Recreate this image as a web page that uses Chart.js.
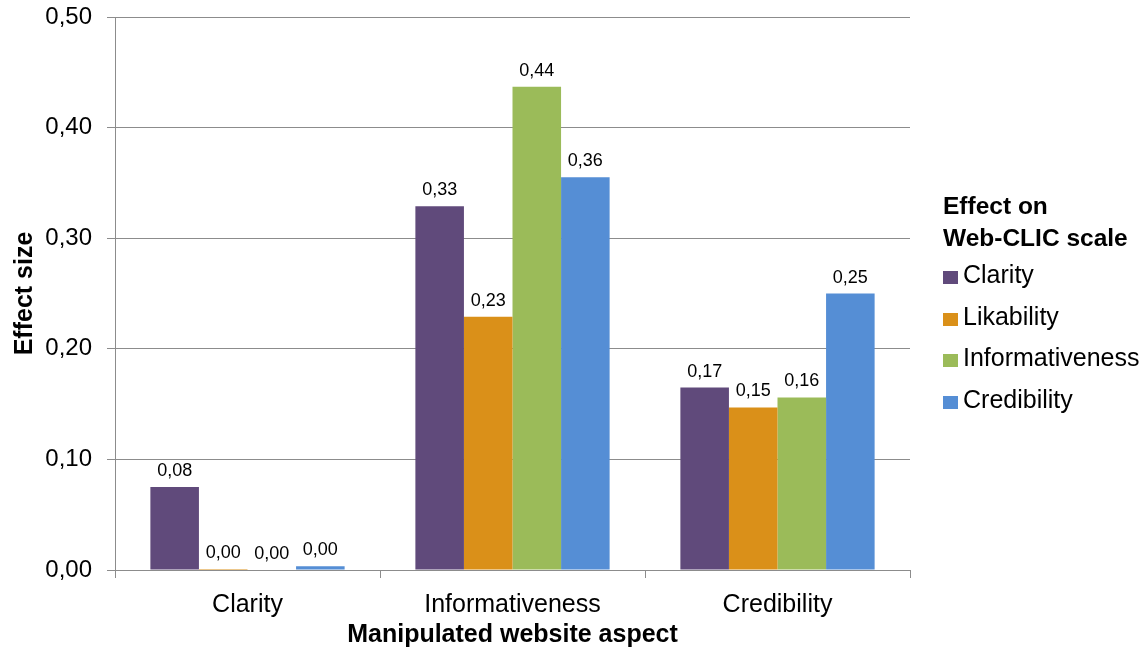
<!DOCTYPE html>
<html>
<head>
<meta charset="utf-8">
<script src="https://cdn.jsdelivr.net/npm/chart.js@4.4.1/dist/chart.umd.min.js"></script>
<style>
    html, body { margin: 0; padding: 0; background: #fff; }
    #wrap { position: relative; width: 1148px; height: 651px; font-family: "Liberation Sans", Arial, sans-serif; }
    #legend { position: absolute; left: 943px; top: 190px; color: #000; }
    #legend .title { font-weight: bold; font-size: 24.5px; line-height: 32px; }
    #legend .item { font-size: 25px; height: 41.5px; line-height: 41.5px; white-space: nowrap; }
    #legend .box { display: inline-block; width: 15px; height: 13px; margin-right: 5px; vertical-align: -1px; }
</style>
</head>
<body>
<div id="wrap">
    <canvas id="effectChart" width="1148" height="651"></canvas>
    <div id="legend"></div>
</div>
<script>
const categories = ['Clarity', 'Informativeness', 'Credibility'];
const seriesNames = ['Clarity', 'Likability', 'Informativeness', 'Credibility'];
const clarityValues = [0.075, 0.329, 0.165];
const likabilityValues = [0.001, 0.229, 0.147];
const informativenessValues = [0.000, 0.437, 0.156];
const credibilityValues = [0.0035, 0.355, 0.250];
const valueLabels = [
    ['0,08', '0,33', '0,17'],
    ['0,00', '0,23', '0,15'],
    ['0,00', '0,44', '0,16'],
    ['0,00', '0,36', '0,25']
];
const yTicks = [0, 0.1, 0.2, 0.3, 0.4, 0.5];
const colors = ['#604a7b', '#da9019', '#9bbb59', '#558ed5'];

document.addEventListener('DOMContentLoaded', () => {
    const ctx = document.getElementById('effectChart').getContext('2d');
    const allValues = [clarityValues, likabilityValues, informativenessValues, credibilityValues];
    const fontFamily = '"Liberation Sans", Arial, sans-serif';

    // value labels above each bar
    const barLabels = {
        id: 'barLabels',
        afterDatasetsDraw(chart) {
            const c = chart.ctx;
            c.save();
            c.font = '18px ' + fontFamily;
            c.fillStyle = '#000';
            c.textAlign = 'center';
            c.textBaseline = 'alphabetic';
            chart.data.datasets.forEach((ds, i) => {
                chart.getDatasetMeta(i).data.forEach((bar, j) => {
                    c.fillText(valueLabels[i][j], bar.x, bar.y - 11);
                });
            });
            c.restore();
        }
    };

    new Chart(ctx, {
        type: 'bar',
        data: {
            labels: categories,
            datasets: seriesNames.map((name, i) => ({
                label: name,
                data: allValues[i],
                backgroundColor: colors[i],
                borderWidth: 0,
                barPercentage: 1,
                categoryPercentage: 0.733
            }))
        },
        options: {
            responsive: false,
            animation: false,
            layout: { padding: { top: 17, right: 238, bottom: 0, left: 0 } },
            plugins: {
                legend: { display: false },
                tooltip: { enabled: false }
            },
            scales: {
                x: {
                    grid: { offset: true, drawOnChartArea: false, drawTicks: true, tickLength: 8, color: '#8c8c8c' },
                    border: { color: '#8c8c8c' },
                    ticks: { color: '#000', padding: 12, font: { size: 25, family: fontFamily } },
                    title: {
                        display: true,
                        text: 'Manipulated website aspect',
                        color: '#000',
                        padding: { top: 0, bottom: 1 },
                        font: { size: 25, weight: 'bold', family: fontFamily }
                    },
                    afterFit(scale) {
                        scale.height = 81;
                        scale.paddingLeft = 0;
                        scale.paddingRight = 0;
                    }
                },
                y: {
                    min: 0,
                    max: 0.5,
                    afterBuildTicks(scale) { scale.ticks = yTicks.map(v => ({ value: v })); },
                    grid: { color: '#8c8c8c', tickLength: 8 },
                    border: { color: '#8c8c8c' },
                    ticks: {
                        color: '#000',
                        padding: 15,
                        font: { size: 24, family: fontFamily },
                        callback: v => v.toFixed(2).replace('.', ',')
                    },
                    title: {
                        display: true,
                        text: 'Effect size',
                        color: '#000',
                        padding: { top: 10, bottom: 0 },
                        font: { size: 25, weight: 'bold', family: fontFamily }
                    },
                    afterFit(scale) {
                        scale.width = 115;
                        scale.paddingTop = 0;
                        scale.paddingBottom = 0;
                    }
                }
            }
        },
        plugins: [barLabels]
    });

    // legend on the right
    const legend = document.getElementById('legend');
    legend.innerHTML = '<div class="title">Effect on<br>Web-CLIC scale</div>' +
        seriesNames.map((n, i) => `<div class="item"><span class="box" style="background:${colors[i]}"></span>${n}</div>`).join('');
});
</script>
</body>
</html>
